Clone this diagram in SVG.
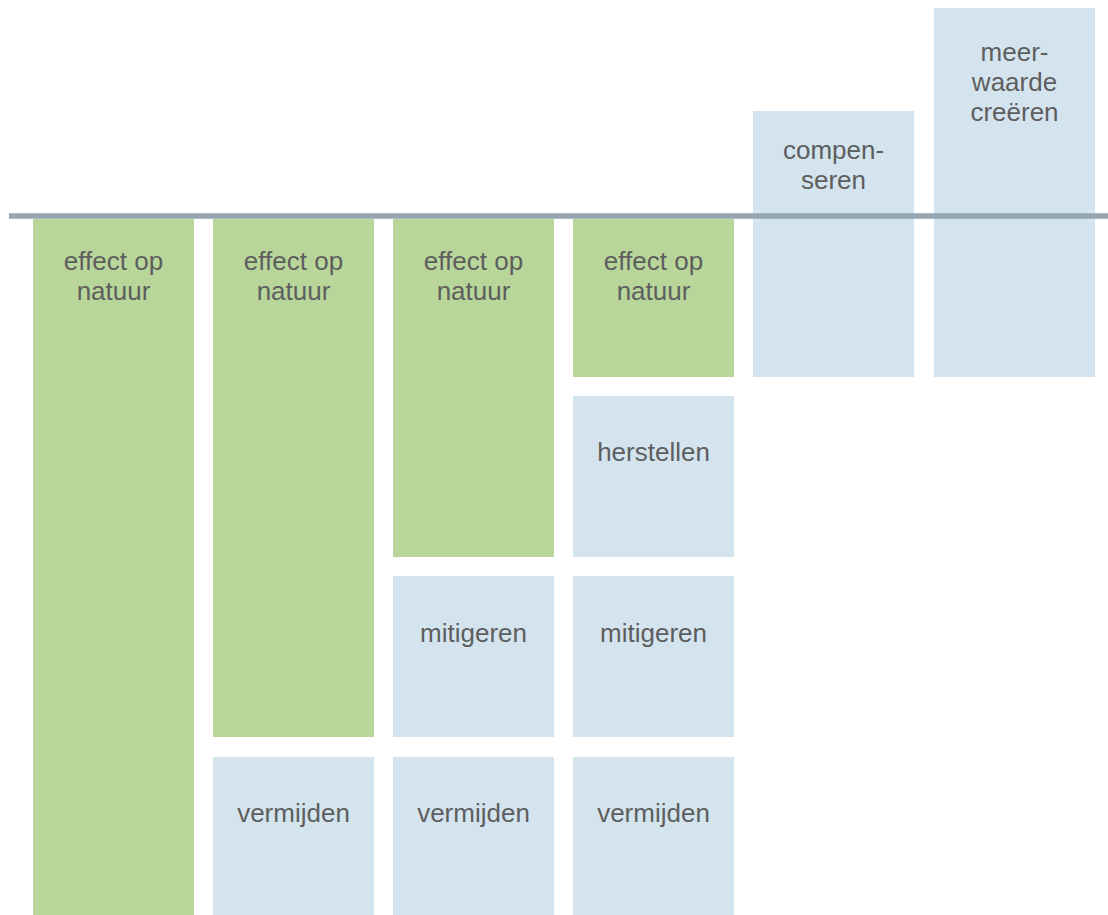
<svg xmlns="http://www.w3.org/2000/svg" width="1108" height="915" viewBox="0 0 1108 915">
<style>
.g{fill:#b8d69a}
.b{fill:#d3e4ee}
text{font-family:"Liberation Sans",Arial,sans-serif;font-size:26px;fill:#5e5e5e;text-anchor:middle}
</style>
<rect width="1108" height="915" fill="#fff"/>
<g id="col1">
<rect class="g" x="33" y="219" width="161" height="696"/>
<text x="113.5" y="270">effect op</text><text x="113.5" y="300">natuur</text>
</g>
<g id="col2-effect">
<rect class="g" x="213" y="219" width="161" height="518"/>
<text x="293.5" y="270">effect op</text><text x="293.5" y="300">natuur</text>
</g>
<g id="col2-vermijden">
<rect class="b" x="213" y="757" width="161" height="158"/>
<text x="293.5" y="822">vermijden</text>
</g>
<g id="col3-effect">
<rect class="g" x="393" y="219" width="161" height="338"/>
<text x="473.5" y="270">effect op</text><text x="473.5" y="300">natuur</text>
</g>
<g id="col3-mitigeren">
<rect class="b" x="393" y="576" width="161" height="161"/>
<text x="473.5" y="642">mitigeren</text>
</g>
<g id="col3-vermijden">
<rect class="b" x="393" y="757" width="161" height="158"/>
<text x="473.5" y="822">vermijden</text>
</g>
<g id="col4-effect">
<rect class="g" x="573" y="219" width="161" height="158"/>
<text x="653.5" y="270">effect op</text><text x="653.5" y="300">natuur</text>
</g>
<g id="col4-herstellen">
<rect class="b" x="573" y="396" width="161" height="161"/>
<text x="653.5" y="461">herstellen</text>
</g>
<g id="col4-mitigeren">
<rect class="b" x="573" y="576" width="161" height="161"/>
<text x="653.5" y="642">mitigeren</text>
</g>
<g id="col4-vermijden">
<rect class="b" x="573" y="757" width="161" height="158"/>
<text x="653.5" y="822">vermijden</text>
</g>
<g id="compenseren">
<rect class="b" x="753" y="111" width="161" height="266"/>
<text x="833.5" y="159">compen-</text><text x="833.5" y="189">seren</text>
</g>
<g id="meerwaarde">
<rect class="b" x="934" y="8" width="161" height="369"/>
<text x="1014.5" y="61">meer-</text><text x="1014.5" y="91">waarde</text><text x="1014.5" y="121">creëren</text>
</g>
<g id="connectors">
<line x1="9" y1="216" x2="1108" y2="216" stroke="#93a6b2" stroke-width="5.5"/>
</g>
</svg>
